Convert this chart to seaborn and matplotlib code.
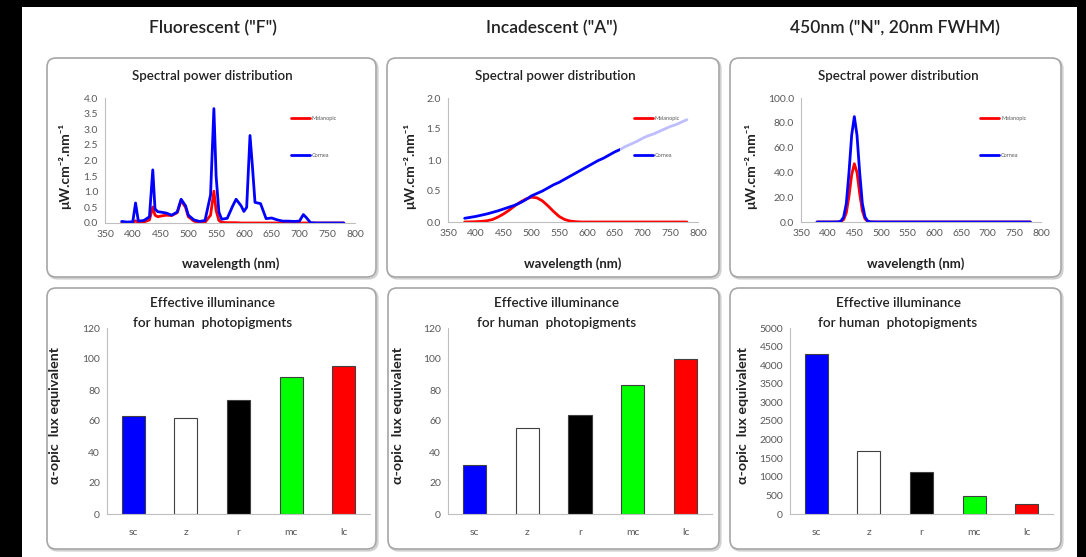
import numpy as np
import pandas as pd
import matplotlib
matplotlib.use("Agg")
import matplotlib.pyplot as plt
import seaborn as sns
from matplotlib.patches import FancyBboxPatch, Rectangle

# ---------------- data ----------------
wl_F = [380, 390, 400, 405, 410, 420, 430, 436, 440, 445, 450, 460, 470, 480, 487, 495,
        500, 510, 520, 530, 540, 546, 550, 555, 560, 570, 580, 586, 595, 600, 605, 611,
        615, 620, 630, 640, 650, 660, 670, 680, 690, 700, 707, 712, 720, 730, 740, 750,
        760, 770, 780]
cornea_F = [0.05, 0.03, 0.04, 0.64, 0.06, 0.08, 0.20, 1.70, 0.45, 0.36, 0.35, 0.32, 0.25, 0.35,
            0.76, 0.55, 0.25, 0.10, 0.05, 0.08, 0.90, 3.66, 1.50, 0.35, 0.12, 0.15, 0.55, 0.76,
            0.55, 0.37, 0.50, 2.80, 1.90, 0.66, 0.62, 0.14, 0.16, 0.10, 0.06, 0.06, 0.05, 0.06,
            0.27, 0.18, 0.01, 0.0, 0.0, 0.0, 0.0, 0.0, 0.0]
melanopic_F = [0.0, 0.0, 0.01, 0.07, 0.01, 0.03, 0.10, 0.51, 0.25, 0.20, 0.22, 0.25, 0.24, 0.33,
               0.72, 0.50, 0.20, 0.06, 0.02, 0.02, 0.25, 1.02, 0.40, 0.08, 0.02, 0.01, 0.01, 0.01,
               0.0, 0.0, 0.0, 0.0, 0.0, 0.0, 0.0, 0.0, 0.0, 0.0, 0.0, 0.0, 0.0, 0.0,
               0.0, 0.0, 0.0, 0.0, 0.0, 0.0, 0.0, 0.0, 0.0]

wl_A = [380, 390, 400, 410, 420, 430, 440, 450, 460, 470, 480, 490, 500, 510, 520, 530, 540,
        550, 560, 570, 580, 590, 600, 610, 620, 630, 640, 650, 660, 670, 680, 690, 700, 710,
        720, 730, 740, 750, 760, 770, 780]
cornea_A = [0.06, 0.075, 0.09, 0.11, 0.13, 0.155, 0.18, 0.21, 0.24, 0.27, 0.31, 0.36, 0.42,
            0.46, 0.50, 0.55, 0.60, 0.64, 0.69, 0.74, 0.79, 0.84, 0.89, 0.94, 0.99, 1.03, 1.08,
            1.13, 1.17, 1.22, 1.26, 1.30, 1.35, 1.39, 1.42, 1.46, 1.50, 1.54, 1.57, 1.61, 1.65]
melanopic_A = [0.0, 0.002, 0.005, 0.01, 0.02, 0.04, 0.08, 0.13, 0.19, 0.26, 0.32, 0.37, 0.40,
               0.39, 0.34, 0.26, 0.17, 0.09, 0.04, 0.015, 0.005, 0.0, 0.0, 0.0, 0.0, 0.0, 0.0,
               0.0, 0.0, 0.0, 0.0, 0.0, 0.0, 0.0, 0.0, 0.0, 0.0, 0.0, 0.0, 0.0, 0.0]

wl_N = [380, 390, 400, 410, 420, 425, 430, 435, 440, 445, 450, 455, 460, 465, 470, 475, 480,
        490, 500, 550, 600, 650, 700, 750, 780]
cornea_N = [0.0, 0.0, 0.0, 0.0, 0.1, 0.8, 4.0, 15.0, 40.0, 70.0, 85.0, 70.0, 40.0, 15.0, 4.0,
            0.8, 0.1, 0.0, 0.0, 0.0, 0.0, 0.0, 0.0, 0.0, 0.0]
melanopic_N = [0.0, 0.0, 0.0, 0.0, 0.05, 0.4, 2.0, 7.5, 21.0, 38.0, 47.0, 40.0, 23.0, 9.0, 2.5,
               0.5, 0.05, 0.0, 0.0, 0.0, 0.0, 0.0, 0.0, 0.0, 0.0]

categories = ["sc", "z", "r", "mc", "lc"]
lux_F = [63.4, 62.0, 73.8, 88.3, 95.8]
lux_A = [31.6, 55.2, 64.0, 83.4, 100.0]
lux_N = [4310, 1685, 1130, 485, 260]
bar_colors = ["#0000FF", "#FFFFFF", "#000000", "#00FF00", "#FF0000"]

col_titles = ['Fluorescent ("F")', 'Incadescent ("A")', '450nm ("N", 20nm FWHM)']

# ---------------- style ----------------
sns.set_theme(style="white")
plt.rcParams['font.family'] = ['Lato', 'DejaVu Sans']

W, H = 1086, 557
fig = plt.figure(figsize=(W / 100, H / 100), dpi=100)
fig.patch.set_facecolor("black")


def fx(x):
    return x / W


def fy(y):
    return 1 - y / H


def axes_px(x0, x1, ytop, ybot):
    return fig.add_axes([fx(x0), fy(ybot), (x1 - x0) / W, (ybot - ytop) / H])


# white page
fig.patches.append(Rectangle((fx(22), 0), fx(1077) - fx(22), fy(7), transform=fig.transFigure,
                             facecolor="white", edgecolor="none", zorder=-10))

# panel boxes (pixel coords)
panels = [(47, 376, 58, 277), (387, 719, 58, 277), (730, 1061, 58, 277),
          (47, 376, 288, 549), (388, 719, 288, 549), (730, 1061, 288, 549)]
for (x0, x1, y0, y1) in panels:
    shadow = FancyBboxPatch((x0 / 100 + 0.015, (H - y1) / 100 - 0.015), (x1 - x0) / 100, (y1 - y0) / 100,
                            boxstyle="round,pad=0,rounding_size=0.09", transform=fig.dpi_scale_trans,
                            facecolor="none", edgecolor="#d0d0d0", linewidth=1.6, zorder=-5)
    fig.patches.append(shadow)
    box = FancyBboxPatch((x0 / 100, (H - y1) / 100), (x1 - x0) / 100, (y1 - y0) / 100,
                         boxstyle="round,pad=0,rounding_size=0.09", transform=fig.dpi_scale_trans,
                         facecolor="white", edgecolor="#a6a6a6", linewidth=1.2, zorder=-4)
    fig.patches.append(box)

grey_txt = "#595959"
axis_grey = "#bfbfbf"

# column titles
for xc, t in zip([213, 552, 895], col_titles):
    fig.text(fx(xc), fy(28), t, ha="center", va="center", fontsize=12.5, fontweight="semibold",
             color="#222222")


def style_axes(ax):
    for s in ["top", "right"]:
        ax.spines[s].set_visible(False)
    for s in ["left", "bottom"]:
        ax.spines[s].set_color(axis_grey)
        ax.spines[s].set_linewidth(0.8)
    ax.tick_params(axis="both", which="both", colors=axis_grey, labelcolor=grey_txt,
                   labelsize=7.5, length=3, width=0.8, direction="out", pad=2)
    ax.set_facecolor("none")
    ax.grid(False)


# ---------------- top row: spectra ----------------
spd = [
    (wl_F, cornea_F, melanopic_F, (105, 355, 98, 223), 4.0, 0.5, "{:.1f}", 212, 65, 231),
    (wl_A, cornea_A, melanopic_A, (448, 698, 98, 222), 2.0, 0.5, "{:.1f}", 555, 410, 573),
    (wl_N, cornea_N, melanopic_N, (801, 1041, 98, 222), 100.0, 20.0, "{:.1f}", 898, 751, 916),
]
for wl, cor, mel, (x0, x1, y0, y1), ymax, ystep, fmt, tx, ylx, xlx in spd:
    ax = axes_px(x0, x1, y0, y1)
    df = pd.DataFrame({"wl": wl, "cornea": cor, "mel": mel})
    sns.lineplot(data=df, x="wl", y="mel", color="#FF0000", lw=2.0, label="Melanopic", ax=ax)
    sns.lineplot(data=df, x="wl", y="cornea", color="#0000FF", lw=2.0, label="Cornea", ax=ax)
    ax.set_xlim(350, 800)
    ax.set_ylim(0, ymax)
    ax.set_xticks(np.arange(350, 801, 50))
    yt = np.arange(0, ymax + ystep / 2, ystep)
    ax.set_yticks(yt)
    ax.set_yticklabels([fmt.format(v) for v in yt])
    ax.set_xlabel("")
    ax.set_ylabel("")
    style_axes(ax)
    leg = ax.legend(loc="upper left", bbox_to_anchor=(0.676, 0.99), frameon=True, fontsize=4,
                    labelspacing=5.8, handlelength=3.4, handletextpad=0.4, borderpad=2.5,
                    framealpha=0.75, edgecolor="none", facecolor="white")
    for t in leg.get_texts():
        t.set_color(grey_txt)
    fig.text(fx(tx), fy(76), "Spectral power distribution", ha="center", va="center",
             fontsize=9.6, fontweight="semibold", color="#222222")
    fig.text(fx(xlx), fy(264), "wavelength (nm)", ha="center", va="center",
             fontsize=9.5, fontweight="bold", color="#222222")
    fig.text(fx(ylx), fy(166), "μW.cm⁻².nm⁻¹", ha="center", va="center", rotation=90,
             fontsize=10, fontweight="bold", color="#222222")

# ---------------- bottom row: bars ----------------
bars = [
    (lux_F, (107, 370, 328, 514), 120, 20, 213, 55),
    (lux_A, (448, 712, 328, 514), 120, 20, 557, 398),
    (lux_N, (790, 1053, 328, 514), 5000, 500, 898, 743),
]
for vals, (x0, x1, y0, y1), ymax, ystep, tx, ylx in bars:
    ax = axes_px(x0, x1, y0, y1)
    df = pd.DataFrame({"cat": categories, "val": vals})
    sns.barplot(data=df, x="cat", y="val", hue="cat", palette=dict(zip(categories, bar_colors)),
                legend=False, width=0.44, saturation=1, ax=ax)
    for p in ax.patches:
        p.set_edgecolor("#404040")
        p.set_linewidth(0.8)
    ax.set_xlim(-0.5, 4.5)
    ax.set_ylim(0, ymax)
    ax.set_yticks(np.arange(0, ymax + ystep / 2, ystep))
    ax.set_xlabel("")
    ax.set_ylabel("")
    style_axes(ax)
    ax.tick_params(axis="x", which="major", length=0, pad=10)
    ax.set_xticks(np.arange(-0.5, 4.6, 1.0), minor=True)
    ax.tick_params(axis="x", which="minor", length=3)
    fig.text(fx(tx), fy(303), "Effective illuminance", ha="center", va="center",
             fontsize=9.7, fontweight="semibold", color="#222222")
    fig.text(fx(tx), fy(323), "for human  photopigments", ha="center", va="center",
             fontsize=9.7, fontweight="semibold", color="#222222")
    fig.text(fx(ylx), fy(416), "α-opic  lux equivalent", ha="center", va="center", rotation=90,
             fontsize=10.3, fontweight="bold", color="#222222")

fig.savefig("out.png", dpi=100, facecolor=fig.get_facecolor())
